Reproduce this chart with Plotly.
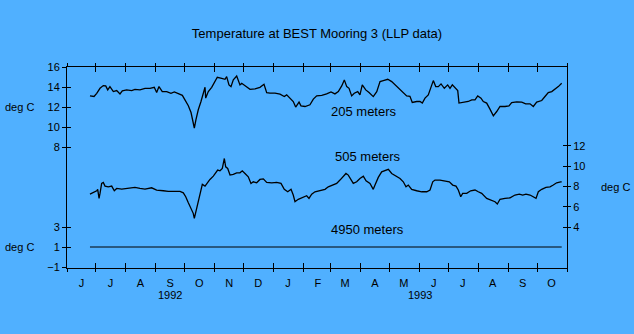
import numpy as np
import pandas as pd
import plotly.graph_objects as go

START = pd.Timestamp("1992-06-01")
END = pd.Timestamp("1993-11-01")

# ---- data (day offsets from 1992-06-01, temperature deg C) ----
d205 = [23.8, 28.0, 30.8, 34.2, 37.6, 40.1, 42.2, 44.5, 48.0, 51.5, 54.9, 57.3, 61.8, 67.0, 70.4, 75.6,
        80.8, 86.0, 90.4, 92.9, 95.3, 98.7, 103.3, 107.7, 111.2, 115.3, 119.5, 122.2, 125.7, 128.5, 130.2,
        131.9, 133.6, 136.0, 138.8, 141.6, 143.0, 143.7, 146.4, 149.9, 153.3, 155.7, 160.3, 163.7, 165.4,
        167.8, 169.9, 172.3, 175.8, 179.2, 181.0, 184.4, 189.6, 194.8, 199.9, 204.1, 206.9, 210.3, 215.5,
        220.7, 225.1, 227.6, 231.0, 234.4, 236.9, 240.4, 242.4, 246.6, 251.7, 255.2, 258.7, 263.9, 269.0,
        273.5, 277.6, 281.1, 284.6, 287.3, 289.8, 292.2, 294.9, 297.6, 301.2, 303.5, 305.9, 309.5, 312.9,
        317.3, 320.9, 324.3, 327.7, 332.3, 336.4, 339.8, 344.0, 347.4, 351.9, 355.3, 357.7, 362.3, 365.7,
        368.1, 370.9, 374.3, 377.1, 379.5, 382.0, 384.7, 387.5, 390.9, 394.4, 396.8, 399.2, 402.0, 404.8,
        406.1, 410.6, 415.7, 419.3, 422.7, 425.5, 428.9, 431.3, 434.8, 438.2, 441.7, 445.2, 448.6, 453.8,
        457.9, 460.7, 465.9, 471.1, 475.2, 479.7, 483.1, 486.6, 491.8, 495.2, 498.6, 502.2, 505.6, 509.0,
        512.5]
t205 = [13.14, 13.08, 13.4, 13.9, 14.17, 14.14, 13.74, 14.07, 13.57, 13.67, 13.34, 13.64, 13.74, 13.67, 13.8,
        13.74, 13.9, 13.9, 14.0, 13.47, 14.07, 13.57, 13.57, 13.4, 13.54, 13.34, 13.2, 12.75, 12.15, 11.48,
        10.76, 9.93, 10.76, 11.75, 12.58, 13.41, 14.0, 12.92, 13.57, 14.0, 14.57, 15.0, 14.9, 14.8, 15.07,
        14.24, 14.07, 14.74, 15.13, 14.24, 14.4, 14.14, 13.8, 13.84, 14.0, 14.3, 13.47, 13.41, 13.41, 13.31,
        13.07, 13.24, 12.92, 12.58, 12.02, 12.52, 12.15, 12.08, 12.25, 12.82, 13.14, 13.2, 13.34, 13.54,
        13.34, 13.57, 14.14, 14.74, 14.07, 13.9, 13.14, 13.41, 13.57, 13.24, 14.24, 13.74, 13.47, 13.07,
        13.57, 14.57, 14.67, 14.8, 14.57, 14.24, 13.9, 13.57, 13.14, 13.1, 12.48, 12.58, 12.58, 12.42,
        12.92, 13.24, 14.07, 14.67, 14.07, 14.07, 14.34, 13.9, 14.24, 13.9, 14.24, 13.9, 13.67, 12.42,
        12.48, 12.58, 12.75, 12.75, 13.14, 12.92, 12.58, 12.42, 11.82, 11.15, 11.58, 12.08, 12.08, 12.15,
        12.48, 12.55, 12.52, 12.35, 12.35, 12.08, 12.52, 12.68, 13.08, 13.47, 13.57, 13.8, 14.07, 14.4]

d505 = [23.8, 27.2, 29.0, 30.8, 31.8, 33.2, 34.2, 35.9, 37.6, 39.4, 42.8, 46.3, 49.0, 51.5, 56.7, 61.8,
        70.4, 75.6, 80.8, 87.7, 92.9, 99.8, 104.9, 111.9, 117.1, 120.5, 123.0, 125.7, 128.5, 130.8, 131.9,
        133.6, 136.0, 138.5, 140.2, 143.0, 145.8, 148.1, 151.6, 154.1, 156.1, 158.5, 160.9, 163.0, 164.4,
        166.5, 168.9, 172.3, 175.8, 179.2, 181.6, 184.4, 187.8, 190.6, 193.0, 196.5, 199.9, 203.4, 206.9,
        212.1, 217.2, 221.7, 225.1, 228.7, 232.1, 234.4, 236.2, 239.6, 244.8, 248.3, 250.7, 253.5, 256.9,
        262.1, 267.3, 270.7, 275.9, 279.4, 282.8, 286.2, 289.0, 291.4, 293.9, 296.6, 300.1, 303.5, 307.0,
        309.8, 313.9, 317.3, 319.1, 322.5, 326.0, 329.4, 332.9, 336.4, 340.8, 345.0, 348.4, 351.2, 353.6,
        357.1, 362.3, 367.5, 372.7, 376.1, 378.9, 381.2, 386.4, 391.6, 396.1, 399.6, 403.0, 405.4, 407.9,
        409.9, 414.1, 418.2, 422.7, 426.1, 429.6, 434.8, 440.0, 443.4, 445.8, 448.6, 453.8, 459.0, 464.1,
        468.6, 472.1, 475.5, 479.7, 483.1, 485.9, 488.3, 491.8, 496.2, 500.4, 503.8, 507.3, 511.5, 512.5]
t505 = [7.26, 7.39, 7.49, 7.59, 7.73, 6.84, 7.33, 8.31, 8.41, 8.05, 7.98, 8.05, 7.59, 7.82, 7.75, 7.82,
        7.92, 7.82, 7.75, 7.88, 7.66, 7.59, 7.53, 7.53, 7.53, 7.39, 7.0, 6.41, 5.86, 5.37, 4.88,
        5.53, 6.51, 7.49, 8.22, 8.05, 8.47, 8.7, 9.03, 9.35, 9.62, 9.55, 9.78, 10.76, 9.94,
        9.78, 9.13, 9.2, 9.35, 9.35, 9.55, 9.29, 8.96, 8.31, 8.47, 8.37, 8.7, 8.76, 8.41,
        8.37, 8.41, 8.31, 7.73, 7.49, 7.73, 7.17, 6.51, 6.75, 7.0, 7.1, 6.84, 7.26, 7.49,
        7.59, 7.73, 7.98, 8.15, 8.31, 8.64, 8.96, 9.29, 9.13, 8.7, 8.31, 8.47, 8.8, 9.03,
        8.57, 8.31, 7.73, 8.15, 8.9, 9.45, 9.55, 9.69, 9.29, 9.03, 8.8, 8.47, 7.98, 8.15,
        7.73, 7.59, 7.49, 7.49, 7.66, 8.47, 8.64, 8.64, 8.57, 8.47, 8.15, 8.05, 7.66, 7.0,
        7.33, 7.33, 7.59, 7.66, 7.49, 7.33, 6.84, 6.68, 6.51, 6.29, 6.75, 6.84, 6.9, 7.17,
        7.26, 7.17, 7.26, 7.17, 7.0, 6.84, 7.49, 7.73, 7.92, 7.98, 8.15, 8.37, 8.47, 8.47]

d4950 = [23.8, 61.8, 104.9, 148.1, 191.0, 234.4, 277.6, 320.9, 365.7, 410.6, 453.8, 496.2, 512.5]
t4950 = [1.0, 1.0, 1.0, 1.0, 1.0, 1.0, 1.0, 1.0, 1.0, 1.0, 1.0, 1.0, 1.0]

month_letters = ["J", "J", "A", "S", "O", "N", "D", "J", "F", "M", "A", "M", "J", "J", "A", "S", "O"]
ticks205 = [8, 10, 12, 14, 16]
ticks505 = [4, 6, 8, 10, 12]
ticks4950 = [-1, 1, 3]
series_names = ["205 meters", "505 meters", "4950 meters"]

def to_dates(days):
    return START + pd.to_timedelta(np.array(days), unit="D")

BG = "rgb(80,176,255)"
FONT = "Liberation Sans, Arial, sans-serif"

fig = go.Figure()
line = dict(color="black", width=1.3)
fig.add_trace(go.Scatter(x=to_dates(d205), y=t205, mode="lines", line=line, yaxis="y"))
fig.add_trace(go.Scatter(x=to_dates(d505), y=t505, mode="lines", line=line, yaxis="y5"))
fig.add_trace(go.Scatter(x=to_dates(d4950), y=t4950, mode="lines", line=dict(color="black", width=1),
                         yaxis="y3"))

month_starts = pd.date_range(START, END, freq="MS")
mid_months = month_starts[:-1] + pd.Timedelta(days=15)
xr = [START, END]

xbase = dict(type="date", range=xr, showgrid=False, zeroline=False, tickvals=month_starts,
             showticklabels=False, tickcolor="black", tickwidth=1)
yb = dict(showgrid=False, zeroline=False, tickcolor="black", tickwidth=1,
          tickfont=dict(size=11, color="black", family=FONT))

fig.update_layout(
    width=634, height=334,
    margin=dict(l=67, r=67, t=67, b=66),
    paper_bgcolor=BG, plot_bgcolor=BG,
    showlegend=False,
    font=dict(family=FONT, color="black", size=11),
    title=dict(text="Temperature at BEST Mooring 3 (LLP data)", x=0.5, xanchor="center",
               y=1 - 33 / 334, yanchor="middle", font=dict(size=13, color="black", family=FONT)),
    xaxis=dict(**xbase, ticks="outside", ticklen=3, mirror="ticks", showline=True,
               linecolor="black", linewidth=1),
    xaxis2=dict(**xbase, ticks="inside", ticklen=5, mirror="ticks", overlaying="x", showline=False),
    xaxis3=dict(type="date", range=xr, overlaying="x", showgrid=False, zeroline=False,
                tickvals=mid_months, ticktext=month_letters, ticks="outside", ticklen=5,
                tickcolor="rgba(0,0,0,0)", showline=False,
                tickfont=dict(size=11, color="black", family=FONT)),
    yaxis=dict(**yb, range=[-4.07, 16.03], tickvals=ticks205, ticks="outside", ticklen=4,
               showline=True, linecolor="black", linewidth=1, mirror=True),
    yaxis2=dict(**yb, range=[-4.07, 16.03], tickvals=ticks205, ticks="inside", ticklen=4,
                showticklabels=False, overlaying="y", showline=False),
    yaxis3=dict(**yb, range=[-1.1, 19.0], tickvals=ticks4950, ticks="outside", ticklen=4,
                overlaying="y", showline=False),
    yaxis4=dict(**yb, range=[-1.1, 19.0], tickvals=ticks4950, ticks="inside", ticklen=4,
                showticklabels=False, overlaying="y", showline=False),
    yaxis5=dict(**yb, range=[0, 19.75], tickvals=ticks505, ticks="outside", ticklen=3,
                overlaying="y", side="right", showline=False),
    yaxis6=dict(**yb, range=[0, 19.75], tickvals=ticks505, ticks="inside", ticklen=4,
                showticklabels=False, overlaying="y", side="right", showline=False),
)

# invisible traces to activate overlay axes
for xa, ya in [("x2", "y2"), ("x3", "y4"), ("x", "y6")]:
    fig.add_trace(go.Scatter(x=[START], y=[None], xaxis=xa, yaxis=ya, mode="lines",
                             hoverinfo="skip", showlegend=False))

def px_x(px):
    return (px - 67) / 500.0

def px_y(py):
    return (268 - py) / 201.0

ann = []
ann_font = dict(size=11, color="black", family=FONT)
for (x, y, txt) in [(19.5, 107, "deg C"), (19.5, 247, "deg C"), (615.5, 187, "deg C")]:
    ann.append(dict(x=px_x(x), y=px_y(y), xref="paper", yref="paper", text=txt, showarrow=False,
                    xanchor="center", yanchor="middle", font=ann_font))
for (x, y, txt) in [(170, 295, "1992"), (420, 295, "1993")]:
    ann.append(dict(x=px_x(x), y=px_y(y), xref="paper", yref="paper", text=txt, showarrow=False,
                    xanchor="center", yanchor="middle", font=ann_font))
for (x, y), txt in zip([(363.5, 111), (367.5, 156), (367.5, 229)], series_names):
    ann.append(dict(x=px_x(x), y=px_y(y), xref="paper", yref="paper", text=txt, showarrow=False,
                    xanchor="center", yanchor="middle", font=dict(size=13, color="black", family=FONT)))
fig.update_layout(annotations=ann)

fig.write_html("out.html")
